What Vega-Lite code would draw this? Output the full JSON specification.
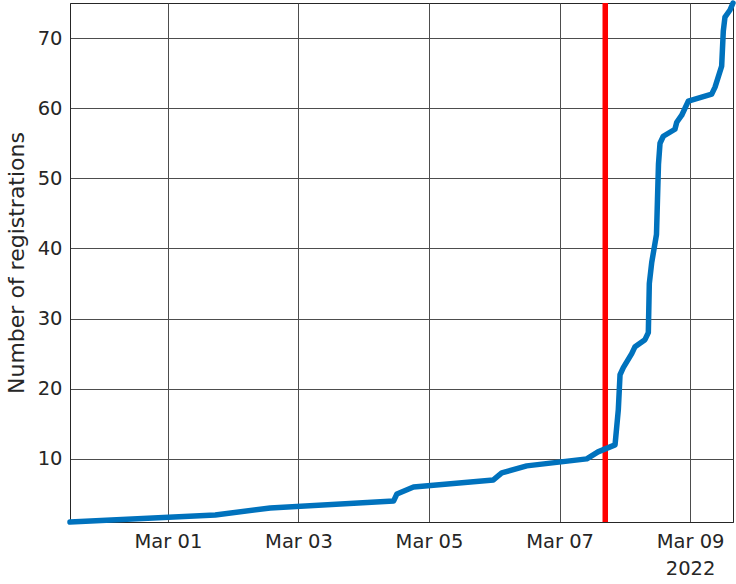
{
  "$schema": "https://vega.github.io/schema/vega-lite/v6.json",
  "width": 663,
  "height": 519,
  "autosize": "none",
  "padding": {"left": 70, "top": 3, "right": 3, "bottom": 62},
  "background": "white",
  "config": {
    "font": "DejaVu Sans",
    "view": {"stroke": "#262626", "strokeWidth": 1},
    "axis": {
      "labelFont": "DejaVu Sans",
      "titleFont": "DejaVu Sans",
      "labelFontSize": 19.5,
      "titleFontSize": 22,
      "labelColor": "#262626",
      "titleColor": "#262626",
      "titleFontWeight": "normal",
      "domainColor": "#262626",
      "gridColor": "#4d4d4d",
      "gridOpacity": 1,
      "gridWidth": 1,
      "ticks": false
    }
  },
  "datasets": {
    "registrations": [
      {"time": "2022-02-27T12:00", "count": 1},
      {"time": "2022-03-01T17:24", "count": 2},
      {"time": "2022-03-02T13:36", "count": 3},
      {"time": "2022-03-04T11:00", "count": 4},
      {"time": "2022-03-04T12:12", "count": 5},
      {"time": "2022-03-04T18:18", "count": 6},
      {"time": "2022-03-05T23:40", "count": 7},
      {"time": "2022-03-06T02:45", "count": 8},
      {"time": "2022-03-06T11:56", "count": 9},
      {"time": "2022-03-07T10:00", "count": 10},
      {"time": "2022-03-07T14:08", "count": 11},
      {"time": "2022-03-07T20:24", "count": 12},
      {"time": "2022-03-07T21:36", "count": 17},
      {"time": "2022-03-07T22:14", "count": 22},
      {"time": "2022-03-07T23:26", "count": 23},
      {"time": "2022-03-08T02:32", "count": 25},
      {"time": "2022-03-08T03:45", "count": 26},
      {"time": "2022-03-08T07:24", "count": 27},
      {"time": "2022-03-08T08:38", "count": 28},
      {"time": "2022-03-08T09:00", "count": 35},
      {"time": "2022-03-08T09:53", "count": 38},
      {"time": "2022-03-08T11:38", "count": 42},
      {"time": "2022-03-08T12:00", "count": 47},
      {"time": "2022-03-08T12:22", "count": 52},
      {"time": "2022-03-08T12:56", "count": 55},
      {"time": "2022-03-08T14:08", "count": 56},
      {"time": "2022-03-08T18:25", "count": 57},
      {"time": "2022-03-08T19:05", "count": 58},
      {"time": "2022-03-08T20:55", "count": 59},
      {"time": "2022-03-08T23:20", "count": 61},
      {"time": "2022-03-09T07:56", "count": 62},
      {"time": "2022-03-09T09:10", "count": 63},
      {"time": "2022-03-09T11:36", "count": 66},
      {"time": "2022-03-09T12:12", "count": 71},
      {"time": "2022-03-09T12:49", "count": 73},
      {"time": "2022-03-09T14:40", "count": 74},
      {"time": "2022-03-09T15:46", "count": 75}
    ],
    "marker": [
      {"time": "2022-03-07T16:48"}
    ]
  },
  "layer": [
    {
      "data": {"name": "marker"},
      "mark": {"type": "rule", "color": "#FF0000", "strokeWidth": 5.5},
      "encoding": {
        "x": {"field": "time", "type": "temporal"}
      }
    },
    {
      "data": {"name": "registrations"},
      "mark": {"type": "line", "color": "#0072BD", "strokeWidth": 5.5, "strokeJoin": "round", "strokeCap": "round"},
      "encoding": {
        "x": {
          "field": "time",
          "type": "temporal",
          "title": null,
          "scale": {
            "domain": [
              {"year": 2022, "month": 2, "date": 27, "hours": 12},
              {"year": 2022, "month": 3, "date": 9, "hours": 15, "minutes": 46}
            ]
          },
          "axis": {
            "values": [
              {"year": 2022, "month": 3, "date": 1},
              {"year": 2022, "month": 3, "date": 3},
              {"year": 2022, "month": 3, "date": 5},
              {"year": 2022, "month": 3, "date": 7},
              {"year": 2022, "month": 3, "date": 9}
            ],
            "labelExpr": "date(datum.value) == 9 ? [timeFormat(datum.value, '%b %d'), '2022'] : timeFormat(datum.value, '%b %d')",
            "labelPadding": 10,
            "labelLineHeight": 27,
            "labelFlush": false,
            "labelOverlap": false
          }
        },
        "y": {
          "field": "count",
          "type": "quantitative",
          "title": "Number of registrations",
          "scale": {"domain": [1, 75], "nice": false, "zero": false},
          "axis": {
            "values": [10, 20, 30, 40, 50, 60, 70],
            "labelPadding": 8,
            "titlePadding": 9
          }
        }
      }
    }
  ]
}
